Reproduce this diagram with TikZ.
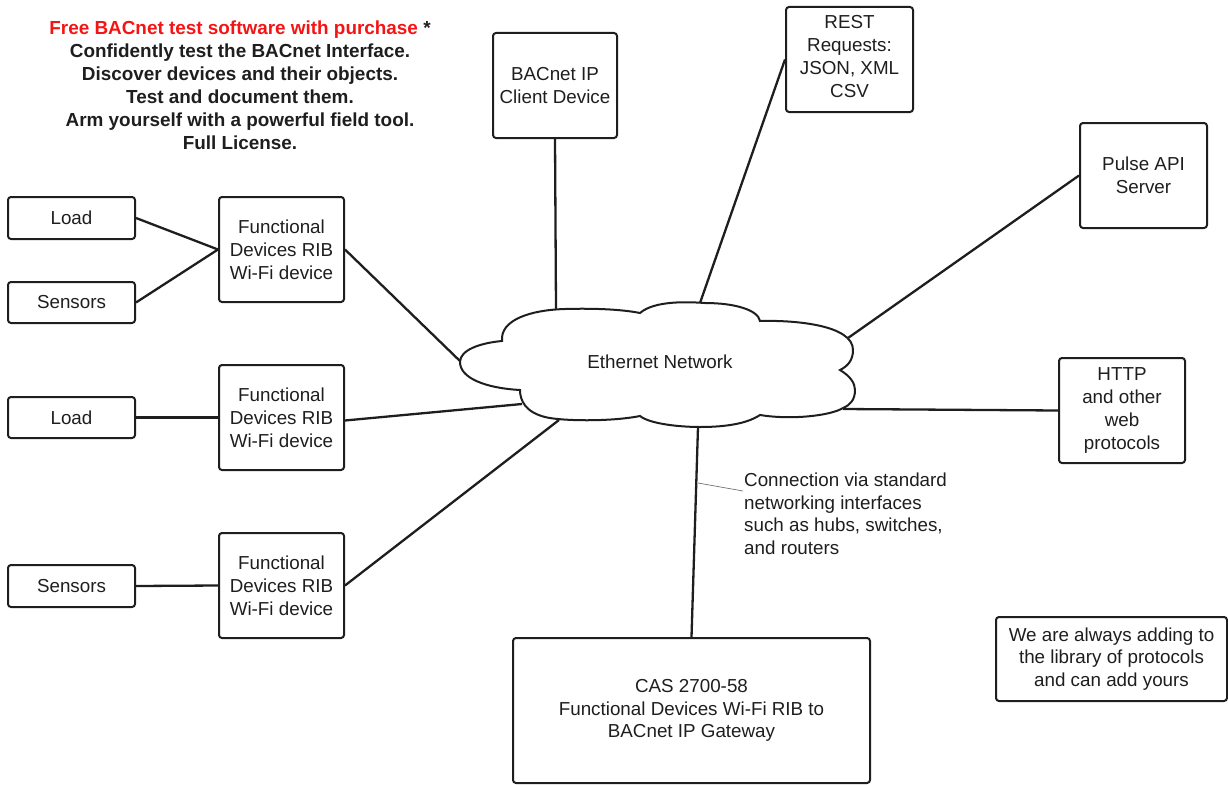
\documentclass[tikz,border=0pt]{standalone}
\usepackage{fontspec}
\setmainfont{Liberation Sans}
\definecolor{titlered}{RGB}{245,20,20}
\definecolor{ink}{RGB}{30,30,30}
\begin{document}
\begin{tikzpicture}[x=1pt,y=-1pt,
  box/.style={draw=ink, line width=2pt, rounded corners=3pt, inner sep=0pt, align=center,
    font=\fontsize{18.8}{22.8}\selectfont, text=ink},
  link/.style={draw=ink, line width=2.3pt},
  leader/.style={draw=black!55, line width=0.7pt},
  plain/.style={inner sep=0pt, text=ink, font=\fontsize{18.8}{22.5}\selectfont}]
\useasboundingbox (0,0) rectangle (1228,784);

% title text
\node[plain, align=center, font=\fontsize{18.9}{23}\selectfont\bfseries] (title) at (240,85)
 {\textcolor{titlered}{Free BACnet test software with purchase} *\\
  Confidently test the BACnet Interface.\\
  Discover devices and their objects.\\
  Test and document them.\\
  Arm yourself with a powerful field tool.\\
  Full License.};

% boxes
\node[box, minimum width=127pt, minimum height=42pt] (load1) at (71.5,218) {Load};
\node[box, minimum width=127pt, minimum height=41pt] (sens1) at (71.5,302.5) {Sensors};
\node[box, minimum width=125pt, minimum height=105pt] (rib1) at (281.5,249.5) {Functional\\Devices RIB\\Wi-Fi device};
\node[box, minimum width=127pt, minimum height=41pt] (load2) at (71.5,417.5) {Load};
\node[box, minimum width=125pt, minimum height=105pt] (rib2) at (281.5,417.5) {Functional\\Devices RIB\\Wi-Fi device};
\node[box, minimum width=127pt, minimum height=42pt] (sens3) at (71.5,586) {Sensors};
\node[box, minimum width=125pt, minimum height=105pt] (rib3) at (281.5,585.5) {Functional\\Devices RIB\\Wi-Fi device};
\node[box, minimum width=124pt, minimum height=105pt] (bip) at (555,85.5) {BACnet IP\\Client Device};
\node[box, minimum width=127pt, minimum height=105pt, text depth=6pt] (rest) at (849.5,59.5) {REST\\Requests:\\JSON, XML\\CSV};
\node[box, minimum width=127pt, minimum height=105pt] (pulse) at (1143.5,175.5) {Pulse API\\Server};
\node[box, minimum width=126pt, minimum height=105pt] (http) at (1122,410.5) {HTTP\\and other\\web\\protocols};
\node[box, minimum width=357pt, minimum height=145pt] (cas) at (691.5,710.5) {CAS 2700-58\\Functional Devices Wi-Fi RIB to\\BACnet IP Gateway};
\node[box, minimum width=231pt, minimum height=84pt] (always) at (1111.5,659) {We are always adding to\\the library of protocols\\and can add yours};

% cloud attachment points
\coordinate (cA) at (461,362);
\coordinate (cB) at (522,404);
\coordinate (cC) at (559,420);
\coordinate (cD) at (556,309);
\coordinate (cE) at (700,303);
\coordinate (cF) at (848,338);
\coordinate (cG) at (843,409);
\coordinate (cH) at (698,427);

% connectors
\draw[link] (load1.east) -- (rib1.west);
\draw[link] (sens1.east) -- (rib1.west);
\draw[link] (load2.east) -- (rib2.west);
\draw[link] (sens3.east) -- (rib3.west);
\draw[link] (rib1.east) -- (cA);
\draw[link] ([yshift=-3pt]rib2.east) -- (cB);
\draw[link] (rib3.east) -- (cC);
\draw[link] (bip.south) -- (cD);
\draw[link] (rest.west) -- (cE);
\draw[link] (pulse.west) -- (cF);
\draw[link] (http.west) -- (cG);
\draw[link] (cas.north) -- (cH);

% cloud
\draw[line width=2pt, draw=ink, fill=white]
  (520,390) .. controls (485,388) and (460,378) .. (460,362)
  .. controls (460,350) and (480,343) .. (502,341)
  .. controls (500,320) and (530,310) .. (565,309)
  .. controls (600,308) and (625,310) .. (640,313)
  .. controls (655,300) and (690,302) .. (705,303)
  .. controls (735,303) and (758,310) .. (760,321)
  .. controls (795,320) and (853,325) .. (853,350)
  .. controls (853,360) and (848,366) .. (840,370)
  .. controls (850,376) and (855,383) .. (855,390)
  .. controls (855,400) and (850,405) .. (843,408)
  .. controls (830,416) and (790,420) .. (760,415)
  .. controls (745,425) and (720,427) .. (700,427)
  .. controls (680,427) and (650,424) .. (640,416)
  .. controls (610,422) and (560,421) .. (545,417)
  .. controls (525,412) and (520,400) .. (520,390) -- cycle;
\node[plain] (net) at (660,362) {Ethernet Network};

% annotation
\node[plain, anchor=north west, align=left] (note) at (744,473)
 {Connection via standard\\networking interfaces\\such as hubs, switches,\\and routers};
\coordinate (lead) at (698,483);
\coordinate (leadend) at (743,491);
\draw[leader] (lead) -- (leadend);
\end{tikzpicture}
\end{document}
